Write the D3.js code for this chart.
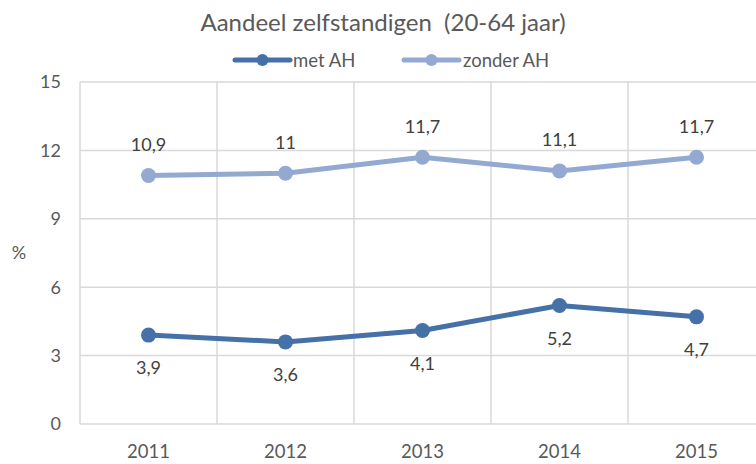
<!DOCTYPE html>
<html><head><meta charset="utf-8">
<script src="https://cdn.jsdelivr.net/npm/d3@7"></script>
<style>body{margin:0;background:#fff;} text{font-family:Lato, "Open Sans", sans-serif;}</style>
</head><body>
<svg id="c" width="756" height="464"></svg>
<script>
const categories = ["2011","2012","2013","2014","2015"];
const metAH = [3.9, 3.6, 4.1, 5.2, 4.7];
const zonderAH = [10.9, 11, 11.7, 11.1, 11.7];
const yTicks = [0,3,6,9,12,15];
const seriesNames = ["met AH","zonder AH"];
const colors = ["#4571a8","#93a9d2"];
const title = "Aandeel zelfstandigen  (20-64 jaar)";

(function(){
const svg = d3.select("#c");
const W=756,H=464;
svg.append("rect").attr("width",W).attr("height",H).attr("fill","#fff");
const pL=80,pR=765,pT=82,pB=424;
const x = d3.scaleBand().domain(categories).range([pL,pR]);
const y = d3.scaleLinear().domain([0,15]).range([pB,pT]);
const txt="#595959", grid="#d9d9d9";

svg.append("g").selectAll("line").data(yTicks).join("line")
  .attr("x1",pL).attr("x2",pR).attr("y1",d=>y(d)).attr("y2",d=>y(d))
  .attr("stroke",grid).attr("stroke-width",1.5);
const edges = categories.map(c=>x(c)).concat([x(categories[categories.length-1])+x.bandwidth()]);
svg.append("g").selectAll("line").data(edges).join("line")
  .attr("x1",d=>d).attr("x2",d=>d).attr("y1",pT).attr("y2",pB)
  .attr("stroke",grid).attr("stroke-width",1.5);

svg.append("g").selectAll("text").data(yTicks).join("text")
  .attr("x",61).attr("y",d=>y(d)).attr("dy","0.35em").attr("text-anchor","end")
  .attr("fill",txt).style("font-size","18px").text(d=>d);
svg.append("g").selectAll("text").data(categories).join("text")
  .attr("x",d=>x(d)+x.bandwidth()/2).attr("y",452).attr("dy","0.35em").attr("text-anchor","middle")
  .attr("fill",txt).style("font-size","18.5px").text(d=>d);
svg.append("text").attr("x",19).attr("y",253).attr("dy","0.35em").attr("text-anchor","middle")
  .attr("fill",txt).style("font-size","18px").text("%");

svg.append("text").attr("x",383).attr("y",23).attr("dy","0.35em").attr("text-anchor","middle")
  .attr("fill",txt).style("font-size","24px").style("white-space","pre").text(title);

const fmt = v => String(v).replace(".",",");
const series = [{name:seriesNames[0],vals:metAH,color:colors[0],off:33},{name:seriesNames[1],vals:zonderAH,color:colors[1],off:-31}];
const line = d3.line().x((d,i)=>x(categories[i])+x.bandwidth()/2).y(d=>y(d));
series.forEach(s=>{
  svg.append("path").attr("d",line(s.vals)).attr("fill","none").attr("stroke",s.color).attr("stroke-width",5).attr("stroke-linejoin","round");
  svg.append("g").selectAll("circle").data(s.vals).join("circle")
    .attr("cx",(d,i)=>x(categories[i])+x.bandwidth()/2).attr("cy",d=>y(d)).attr("r",7.5).attr("fill",s.color);
  svg.append("g").selectAll("text").data(s.vals).join("text")
    .attr("x",(d,i)=>x(categories[i])+x.bandwidth()/2).attr("y",d=>y(d)+s.off).attr("dy","0.35em")
    .attr("text-anchor","middle").attr("fill","#404040").style("font-size","18px").text(d=>fmt(d));
});

const leg = [{x:235,tx:293},{x:404,tx:463}];
series.forEach((s,i)=>{
  const g=svg.append("g");
  g.append("line").attr("x1",leg[i].x).attr("x2",leg[i].x+55).attr("y1",60).attr("y2",60).attr("stroke",s.color).attr("stroke-width",5).attr("stroke-linecap","round");
  g.append("circle").attr("cx",leg[i].x+27.5).attr("cy",60).attr("r",6).attr("fill",s.color);
  g.append("text").attr("x",leg[i].tx).attr("y",61).attr("dy","0.35em").attr("fill",txt).style("font-size","18.5px").text(s.name);
});
})();
</script>
</body></html>
